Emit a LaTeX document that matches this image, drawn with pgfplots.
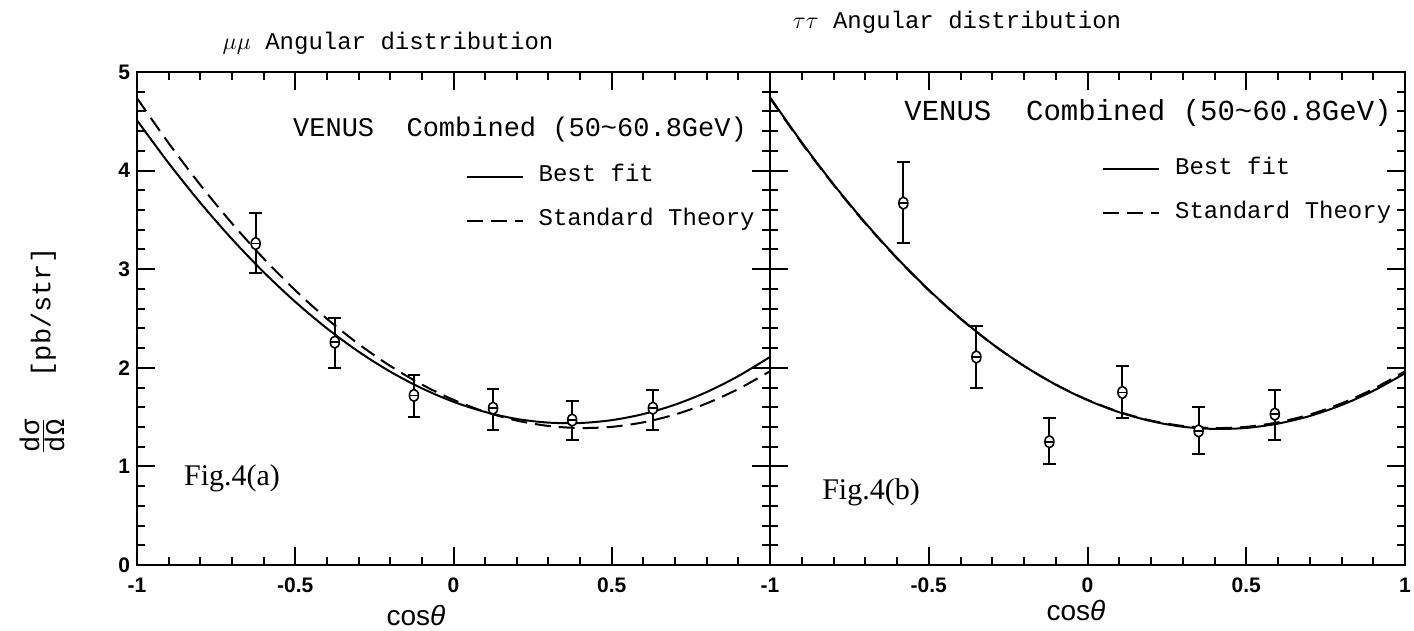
\documentclass[border=0pt]{standalone}
\usepackage{fontspec}
\usepackage{pgfplots}
\usepackage{pgfplotstable}
\pgfplotsset{compat=1.18}
\setmainfont{Liberation Serif}
\newfontfamily\tw{Liberation Mono}
\newfontfamily\hv{Liberation Sans}

% open circle crossed by a horizontal bar
\pgfdeclareplotmark{thetao}{%
  \pgfpathellipse{\pgfpointorigin}{\pgfqpoint{0.75\pgfplotmarksize}{0pt}}{\pgfqpoint{0pt}{\pgfplotmarksize}}%
  \pgfusepathqfillstroke
  \pgfpathmoveto{\pgfqpoint{-0.75\pgfplotmarksize}{0pt}}%
  \pgfpathlineto{\pgfqpoint{0.75\pgfplotmarksize}{0pt}}%
  \pgfusepathqstroke
}

% measured points: x, value, upper and lower error
\pgfplotstableread{
x      y     ep    em
-0.625 3.26  0.31  0.30
-0.375 2.26  0.24  0.26
-0.125 1.72  0.21  0.22
0.125  1.59  0.19  0.22
0.375  1.47  0.19  0.20
0.630  1.59  0.18  0.22
}\mumudata

\pgfplotstableread{
x      y     ep    em
-0.58  3.67  0.42  0.40
-0.35  2.11  0.31  0.31
-0.12  1.25  0.24  0.23
0.11   1.75  0.27  0.26
0.35   1.36  0.24  0.23
0.59   1.53  0.24  0.26
}\tautaudata

% curves: best fit (mu mu), best fit (tau tau), standard theory
\pgfplotstableread{
x     bmu    btau   std
-1.0  4.510  4.744  4.735
-0.9  4.076  4.286  4.278
-0.8  3.674  3.862  3.855
-0.7  3.306  3.471  3.465
-0.6  2.971  3.114  3.109
-0.5  2.669  2.790  2.786
-0.4  2.400  2.500  2.497
-0.3  2.164  2.242  2.241
-0.2  1.961  2.019  2.019
-0.1  1.792  1.829  1.830
0.0   1.655  1.672  1.675
0.1   1.552  1.549  1.553
0.2   1.481  1.459  1.465
0.3   1.444  1.402  1.410
0.4   1.440  1.380  1.389
0.5   1.469  1.390  1.401
0.6   1.531  1.434  1.447
0.7   1.626  1.511  1.526
0.8   1.754  1.622  1.639
0.9   1.916  1.766  1.785
1.0   2.110  1.944  1.965
}\curves

\pgfplotsset{
  venus/.style={
    scale only axis,
    height=246.5pt,
    xmin=-1, xmax=1, ymin=0, ymax=5,
    xtick={-1,-0.5,0,0.5,1},
    ytick={0,1,2,3,4,5},
    minor x tick num=4, minor y tick num=4,
    tick align=inside, xtick pos=both, ytick pos=both,
    major tick length=9pt, minor tick length=4pt,
    axis line style={line width=1pt},
    major tick style={line width=1pt, black},
    minor tick style={line width=1pt, black},
    tick label style={font=\hv\bfseries\fontsize{10.5}{12}\selectfont},
    xticklabel style={yshift=-3pt},
    /pgf/number format/assume math mode=true,
    legend cell align=left,
    legend image code/.code={\draw[#1, line width=1pt] (0pt,0pt) -- (28pt,0pt);},
    legend style={draw=none, fill=none, inner sep=0pt,
      font=\tw\fontsize{12}{13}\selectfont,
      nodes={inner ysep=0pt, inner xsep=0pt, text height=7pt, text depth=2pt},
      row sep=13pt, column sep=7.5pt, anchor=west},
  },
  pts/.style={only marks, mark=thetao, mark size=3pt,
    mark options={line width=0.8pt, fill=white},
    error bars/.cd, y dir=both, y explicit,
    error bar style={line width=1pt},
    error mark options={rotate=90, line width=1pt, mark size=3.2pt}},
  fit/.style={line width=1pt, smooth},
  theory/.style={line width=1pt, smooth, dash pattern=on 8pt off 4pt},
}

\begin{document}
\begin{tikzpicture}
\path[use as bounding box] (0,0) rectangle (707pt,315.5pt);

% mu mu panel
\begin{axis}[venus, width=316.5pt,
  at={(68.5pt,33pt)}, anchor=south west,
  xticklabels={-1,-0.5,0,0.5,{}},
  legend style={at={(axis cs:0.037,3.715)}}]
  \addplot[fit] table[x=x, y=bmu] {\curves};
  \addlegendentry{Best fit}
  \addplot[theory] table[x=x, y=std] {\curves};
  \addlegendentry{Standard Theory}
  \addplot[forget plot, pts] table[x=x, y=y, y error plus=ep, y error minus=em] {\mumudata};
\end{axis}

% tau tau panel
\begin{axis}[venus, width=317.5pt,
  at={(385pt,33pt)}, anchor=south west,
  xticklabels={-1,-0.5,0,0.5,1},
  yticklabels={},
  legend style={at={(axis cs:0.045,3.79)}}]
  \addplot[fit] table[x=x, y=btau] {\curves};
  \addlegendentry{Best fit}
  \addplot[theory] table[x=x, y=std] {\curves};
  \addlegendentry{Standard Theory}
  \addplot[forget plot, pts] table[x=x, y=y, y error plus=ep, y error minus=em] {\tautaudata};
\end{axis}

% titles
\node[font=\tw\fontsize{12}{13}\selectfont] at (194pt,294pt) {$\mu\mu$ Angular distribution};
\node[font=\tw\fontsize{12}{13}\selectfont] at (478.5pt,304.5pt) {$\tau\tau$ Angular distribution};

% run and energy range
\node[font=\tw\fontsize{13.5}{14}\selectfont] at (260pt,250.5pt) {VENUS\ \ Combined (50\char`~60.8GeV)};
\node[font=\tw\fontsize{14.5}{15}\selectfont] at (574pt,259pt) {VENUS\ \ Combined (50\char`~60.8GeV)};

% figure tags
\node[font=\fontsize{15}{16}\selectfont] at (116pt,76.5pt) {Fig.4(a)};
\node[font=\fontsize{15}{16}\selectfont] at (435.5pt,69.5pt) {Fig.4(b)};

% axis titles
\node[font=\hv\fontsize{14}{15}\selectfont] at (208pt,8pt) {cos\textit{θ}};
\node[font=\hv\fontsize{14}{15}\selectfont] at (538pt,10.5pt) {cos\textit{θ}};
\node[rotate=90, font=\tw\fontsize{13.5}{14}\selectfont] at (21pt,140pt)
  {$\frac{\mbox{dσ}}{\mbox{dΩ}}$\hspace{20pt}[pb/str]};
\end{tikzpicture}
\end{document}
